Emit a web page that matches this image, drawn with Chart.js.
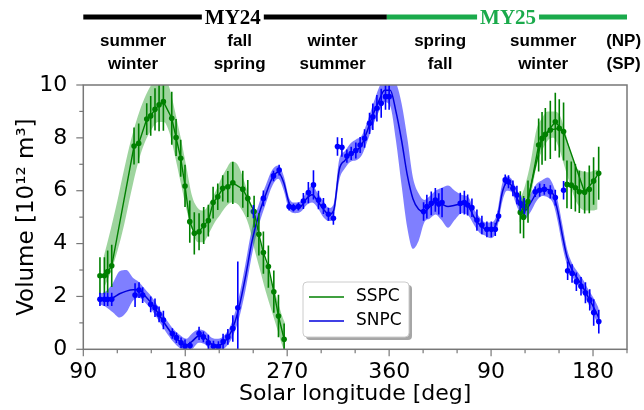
<!DOCTYPE html>
<html lang="en">
<head>
<meta charset="UTF-8" />
<title>SSPC / SNPC volume</title>
<script src="https://cdn.jsdelivr.net/npm/chart.js"></script>
<style>
  body { margin: 0; background: #fff; }
  canvas { display: block; }
</style>
</head>
<body>
<canvas id="chart" width="644" height="410"></canvas>
<script>
// x is cumulative solar longitude: 90..360 is MY24, 450 = Ls 90 of MY25, 540 = Ls 180 of MY25
const xTickVals = [90, 180, 270, 360, 450, 540];
const xTickLabels = ['90', '180', '270', '360', '90', '180'];
const seasonNP = ['summer', 'fall', 'winter', 'spring', 'summer', '(NP)'];
const seasonSP = ['winter', 'spring', 'summer', 'fall', 'winter', '(SP)'];
const seasonLs = [134, 228, 310, 405, 496, 567];

// SSPC, MY24 (points with error bars)
const ssLs24 = [104.7, 108.6, 111.5, 115.1, 134.8, 138.9, 146.0, 149.5, 153.3, 156.9, 160.7, 168.1, 171.9, 176.0, 179.8,
  184.0, 188.0, 192.2, 196.3, 200.4, 204.6, 208.7, 213.1, 217.6, 222.0, 230.8, 235.2, 240.8, 245.0, 249.0, 253.4, 258.2, 262.3, 267.3];
const ssVol24 = [2.78, 2.78, 2.94, 3.16, 7.69, 7.79, 8.71, 8.83, 9.08, 9.25, 9.37, 8.74, 8.01, 7.23, 6.18,
  4.83, 4.39, 4.45, 4.68, 4.87, 5.55, 5.77, 6.09, 6.15, 6.30, 6.06, 5.71, 5.21, 4.35, 3.66, 3.13, 2.18, 1.26, 0.38];
const ssErr24 = [0.7, 0.7, 0.8, 0.8, 0.7, 0.75, 0.6, 0.75, 0.8, 1.0, 1.1, 1.0, 0.7, 0.7, 0.8,
  0.8, 0.8, 0.7, 0.7, 0.6, 0.6, 0.5, 0.5, 0.6, 0.8, 0.7, 0.7, 0.6, 0.8, 0.8, 0.8, 0.8, 0.8, 0.6];
// SSPC, MY24 fit band
const ssBandLs24 = [108, 114, 120, 126, 132, 138, 144, 150, 156, 161, 166, 171, 176, 181, 186, 191, 196, 201, 206, 211,
  216, 221, 226, 231, 236, 241, 246, 251, 256, 261, 266, 268];
const ssBandLo24 = [2.3, 2.9, 3.7, 4.7, 5.9, 7.0, 7.8, 8.3, 8.6, 8.6, 8.2, 7.3, 6.3, 5.3, 4.5, 4.05, 4.05, 4.4, 4.8, 5.1,
  5.4, 5.55, 5.5, 5.2, 4.7, 3.8, 3.0, 2.2, 1.5, 0.8, 0.1, -0.1];
const ssBandHi24 = [3.5, 4.5, 5.6, 6.8, 7.9, 8.8, 9.5, 10.0, 10.3, 10.3, 9.9, 9.0, 8.0, 6.9, 5.8, 5.35, 5.25, 5.5, 5.9, 6.4,
  6.8, 7.1, 7.0, 6.5, 5.8, 4.9, 4.1, 3.3, 2.6, 1.9, 1.2, 1.0];

// SSPC, MY25 (two overlapping retrievals)
const ssLs25a = [475.8, 482.6, 492.0, 497.9, 506.7, 514.0, 532.6, 540.5, 545.0];
const ssVol25a = [5.18, 5.59, 7.73, 8.13, 8.61, 8.24, 5.94, 6.37, 6.66];
const ssErr25a = [0.8, 0.8, 1.0, 1.0, 1.1, 1.1, 0.8, 0.9, 1.0];
const ssLs25b = [478.7, 495.0, 502.3, 510.2, 513.5, 517.0, 520.8, 524.4, 527.9, 536.7];
const ssVol25b = [5.0, 7.98, 8.30, 8.36, null, 6.24, 6.21, 6.11, 5.96, 6.05];
const ssErr25b = [0.8, 1.0, 1.1, 1.1, 0, 0.9, 0.9, 0.9, 0.8, 0.9];
const ssBandLs25 = [475, 480, 485, 490, 495, 500, 505, 510, 515, 520, 525, 530, 535, 540, 544];
const ssBandLo25 = [4.8, 5.1, 5.8, 6.9, 7.5, 7.9, 8.0, 7.6, 6.9, 6.2, 5.6, 5.3, 5.25, 5.25, 5.3];
const ssBandHi25 = [5.6, 6.2, 7.1, 8.3, 8.75, 9.0, 9.0, 8.9, 8.3, 7.5, 6.9, 6.75, 6.7, 6.75, 6.8];

// SNPC (points with error bars)
const snLs = [104.7, 108.6, 111.5, 115.1, 135.7, 139.2, 142.4, 149.5, 153.3, 156.9, 160.7, 168.6, 172.2, 176.3, 179.8,
  184.2, 192.2, 196.0, 200.4, 204.9, 209.3, 213.4, 217.6, 222.0, 226.4, 240.2, 249.0, 257.9, 262.9,
  271.7, 275.5, 279.9, 284.3, 288.7, 293.2, 297.6, 302.0, 306.4, 310.8, 314.4, 318.3, 322.7, 326.5, 330.6,
  334.4, 338.3, 342.7, 345.6, 349.2, 353.0, 356.8, 360.0,
  390.4, 393.3, 397.2, 400.8, 403.8, 406.7, 422.8, 426.4, 429.3, 433.1, 437.5, 441.9, 446.3, 450.2, 453.7,
  456.6, 462.5, 465.4, 469.3, 472.8, 475.8, 479.3, 489.0, 492.9, 497.0, 502.3, 506.7, 514.0,
  517.6, 521.5, 525.3, 529.4, 533.3, 537.1, 540.6, 545.1];
const snVol = [1.89, 1.89, 1.89, 1.89, 2.05, 2.24, 2.05, 1.70, 1.57, 1.32, 1.11, 0.60, 0.44, 0.25, 0.12,
  0.14, 0.60, 0.47, 0.25, 0.12, 0.10, 0.29, 0.47, 0.79, 1.57, 5.21, 5.71, 6.56, 6.78,
  5.40, 5.36, 5.40, 5.61, 5.93, 6.22, 5.65, 5.42, 5.11, 4.96, 7.67, 7.64, 7.31, 7.41, 7.52,
  7.73, 7.98, 8.55, 8.80, 9.12, 9.31, 9.56, 9.56,
  5.21, 5.40, 5.52, 5.65, 5.50, 5.55, 5.52, 5.55, 5.46, 5.36, 4.89, 4.70, 4.54, 4.54, 4.54,
  5.04, 6.41, 6.34, 6.09, 5.84, 5.52, 5.42, 5.96, 6.02, 6.05, 5.96, 5.74, 6.02,
  2.97, 2.87, 2.56, 2.39, 2.14, 1.87, 1.39, 1.05];
const snErr = [0.25, 0.25, 0.25, 0.25, 0.45, 0.3, 0.3, 0.3, 0.35, 0.3, 0.35, 0.2, 0.2, 0.2, 0.25,
  0.15, 0.25, 0.2, 0.3, 0.2, 0.2, 0.3, 0.3, 0.5, 1.75, 0.25, 0.3, 0.2, 0.2,
  0.15, 0.15, 0.15, 0.3, 0.4, 0.55, 0.35, 0.3, 0.25, 0.25, 0.35, 0.35, 0.25, 0.25, 0.3,
  0.3, 0.35, 0.4, 0.5, 0.5, 0.55, 0.5, 0.5,
  0.35, 0.45, 0.45, 0.45, 0.4, 0.55, 0.4, 0.45, 0.4, 0.35, 0.4, 0.35, 0.3, 0.3, 0.25,
  0.2, 0.2, 0.25, 0.3, 0.35, 0.3, 0.3, 0.2, 0.25, 0.2, 0.25, 0.3, 0.35,
  0.35, 0.35, 0.35, 0.35, 0.4, 0.4, 0.5, 0.45];
// SNPC fit line and band
const snFitLs = [104, 110, 116, 122, 128, 134, 139, 145, 151, 157, 163, 169, 175, 181, 186, 192, 197, 203, 209, 215,
  221, 227, 233, 239, 245, 251, 257, 262, 267, 272, 277, 282, 287, 292, 297, 302, 307, 311, 316, 321,
  326, 331, 336, 341, 346, 351, 356, 361, 366, 371, 376, 381, 386, 391, 396, 401, 406, 412, 418, 424,
  430, 435, 440, 445, 450, 455, 460, 464, 468, 472, 476, 480, 485, 490, 495, 500, 505, 509, 513, 517,
  521, 526, 531, 536, 541, 545];
const snFitMid = [1.9, 1.9, 1.95, 2.1, 2.2, 2.25, 2.25, 2.0, 1.7, 1.3, 0.9, 0.55, 0.3, 0.15, 0.3, 0.5, 0.45, 0.2, 0.15, 0.3,
  0.7, 1.5, 2.7, 4.1, 5.1, 5.85, 6.5, 6.7, 6.3, 5.5, 5.35, 5.4, 5.7, 5.85, 5.6, 5.3, 5.1, 5.25, 6.8, 7.15,
  7.4, 7.5, 7.75, 8.3, 8.9, 9.4, 9.8, 9.8, 9.0, 7.9, 6.6, 5.7, 5.3, 5.2, 5.4, 5.55, 5.5, 5.4, 5.45, 5.5,
  5.4, 5.0, 4.7, 4.55, 4.5, 4.8, 5.95, 6.3, 6.2, 5.8, 5.45, 5.25, 5.55, 5.9, 6.05, 6.05, 5.85, 5.2, 4.3, 3.5,
  3.05, 2.7, 2.35, 1.95, 1.55, 1.2];
const snFitLo = [1.7, 1.6, 1.4, 1.2, 1.4, 1.85, 1.95, 1.75, 1.45, 1.05, 0.65, 0.3, 0.05, -0.1, 0.0, 0.25, 0.2, -0.05, -0.1, 0.05,
  0.4, 1.1, 2.2, 3.6, 4.7, 5.5, 6.2, 6.45, 6.0, 5.25, 5.15, 5.2, 5.45, 5.55, 5.35, 5.0, 4.85, 5.0, 6.4, 6.85,
  7.1, 7.15, 7.35, 7.9, 8.5, 9.0, 9.35, 9.2, 7.9, 6.2, 4.6, 3.8, 4.1, 4.8, 4.95, 5.1, 4.9, 4.6, 4.9, 5.15,
  5.05, 4.7, 4.4, 4.3, 4.2, 4.5, 5.6, 6.0, 5.95, 5.5, 5.1, 4.95, 5.2, 5.6, 5.8, 5.75, 5.5, 4.8, 3.9, 3.2,
  2.8, 2.45, 2.1, 1.7, 1.25, 0.9];
const snFitHi = [2.1, 2.2, 2.5, 2.95, 3.0, 2.7, 2.55, 2.25, 1.95, 1.55, 1.15, 0.8, 0.55, 0.4, 0.6, 0.75, 0.7, 0.45, 0.4, 0.55,
  1.0, 1.9, 3.2, 4.6, 5.5, 6.2, 6.8, 6.95, 6.55, 5.7, 5.55, 5.6, 5.95, 6.2, 5.9, 5.6, 5.35, 5.5, 7.2, 7.5,
  7.8, 7.95, 8.1, 8.65, 9.3, 9.9, 10.3, 10.4, 10.1, 9.3, 8.0, 6.5, 5.9, 5.65, 5.8, 6.0, 6.1, 6.2, 6.0, 5.85,
  5.75, 5.3, 5.0, 4.8, 4.8, 5.1, 6.3, 6.55, 6.45, 6.1, 5.8, 5.6, 5.9, 6.25, 6.4, 6.5, 6.2, 5.6, 4.7, 3.8,
  3.3, 2.95, 2.65, 2.25, 1.9, 1.55];

const GREEN = '#008000';
const BLUE = '#0000ff';
const pts = (xs, ys) => xs.map((v, i) => ({ x: v, y: ys[i] }));

function band(xs, lo, hi, color) {
  return [
    { data: pts(xs, lo), borderWidth: 0, pointRadius: 0, fill: false, cubicInterpolationMode: 'monotone', order: 10 },
    { data: pts(xs, hi), borderWidth: 0, pointRadius: 0, fill: '-1', backgroundColor: color, cubicInterpolationMode: 'monotone', order: 10 }
  ];
}

function series(xs, ys, errs, color, showLine) {
  return {
    data: pts(xs, ys), errs: errs, showLine: showLine, spanGaps: false,
    borderColor: color, borderWidth: 1.4, tension: 0,
    pointRadius: 2.8, pointBackgroundColor: color, pointBorderWidth: 0, order: 1
  };
}

const datasets = [
  ...band(ssBandLs24, ssBandLo24, ssBandHi24, 'rgba(40,160,40,0.45)'),
  ...band(ssBandLs25, ssBandLo25, ssBandHi25, 'rgba(40,160,40,0.45)'),
  ...band(snFitLs, snFitLo, snFitHi, 'rgba(0,0,255,0.5)'),
  { data: pts(snFitLs, snFitMid), borderColor: '#0000dd', borderWidth: 1.5, pointRadius: 0,
    cubicInterpolationMode: 'monotone', fill: false, order: 5 },
  series(ssLs24, ssVol24, ssErr24, GREEN, true),
  series(ssLs25a, ssVol25a, ssErr25a, GREEN, true),
  series(ssLs25b, ssVol25b, ssErr25b, GREEN, true),
  series(snLs, snVol, snErr, BLUE, false)
];

const deco = {
  id: 'deco',
  afterDatasetsDraw(chart) {
    const { ctx, chartArea: a, scales: { x, y } } = chart;
    ctx.save();
    ctx.beginPath();
    ctx.rect(a.left, a.top, a.right - a.left, a.bottom - a.top);
    ctx.clip();
    ctx.lineWidth = 1.6;
    chart.data.datasets.forEach(ds => {
      if (!ds.errs) return;
      ctx.strokeStyle = ds.borderColor;
      ds.data.forEach((p, j) => {
        if (p.y == null) return;
        const px = x.getPixelForValue(p.x);
        ctx.beginPath();
        ctx.moveTo(px, y.getPixelForValue(p.y - ds.errs[j]));
        ctx.lineTo(px, y.getPixelForValue(p.y + ds.errs[j]));
        ctx.stroke();
      });
    });
    ctx.restore();
  },
  afterDraw(chart) {
    const { ctx, chartArea: a, scales: { x, y } } = chart;
    ctx.save();
    // frame
    ctx.strokeStyle = '#777';
    ctx.lineWidth = 1.5;
    ctx.strokeRect(a.left, a.top, a.right - a.left, a.bottom - a.top);
    // ticks, major and minor
    ctx.lineWidth = 1.2;
    for (let v = 90; v <= 570; v += 30) {
      const px = x.getPixelForValue(v);
      const len = xTickVals.includes(v) ? 7 : 4;
      ctx.beginPath(); ctx.moveTo(px, a.bottom); ctx.lineTo(px, a.bottom + len); ctx.stroke();
    }
    for (let v = 0; v <= 10; v++) {
      const py = y.getPixelForValue(v);
      const len = v % 2 === 0 ? 7 : 4;
      ctx.beginPath(); ctx.moveTo(a.left, py); ctx.lineTo(a.left - len, py); ctx.stroke();
    }

    // legend
    const lx = 303, ly = 282, lw = 106, lh = 55;
    ctx.fillStyle = 'rgba(0,0,0,0.35)';
    ctx.beginPath(); ctx.roundRect(lx + 3, ly + 3, lw, lh, 4); ctx.fill();
    ctx.fillStyle = '#fff';
    ctx.strokeStyle = '#ccc';
    ctx.lineWidth = 1;
    ctx.beginPath(); ctx.roundRect(lx, ly, lw, lh, 4); ctx.fill(); ctx.stroke();
    ctx.font = '17px "DejaVu Sans"';
    ctx.textBaseline = 'middle';
    ctx.textAlign = 'left';
    [['SSPC', GREEN, ly + 15], ['SNPC', '#0000dd', ly + 39]].forEach(([t, c, yy]) => {
      ctx.strokeStyle = c; ctx.lineWidth = 1.5;
      ctx.beginPath(); ctx.moveTo(lx + 6, yy); ctx.lineTo(lx + 41, yy); ctx.stroke();
      ctx.fillStyle = '#000';
      ctx.fillText(t, lx + 53, yy);
    });

    // Mars year bars
    const x0 = x.getPixelForValue(90), xm = x.getPixelForValue(358), x1 = a.right;
    ctx.lineWidth = 5;
    ctx.strokeStyle = '#000';
    ctx.beginPath(); ctx.moveTo(x0, 17); ctx.lineTo(xm, 17); ctx.stroke();
    ctx.strokeStyle = '#1aaa4b';
    ctx.beginPath(); ctx.moveTo(xm, 17); ctx.lineTo(x1, 17); ctx.stroke();
    ctx.font = 'bold 21px "Liberation Serif"';
    ctx.textAlign = 'center';
    ctx.textBaseline = 'alphabetic';
    [['MY24', 222, '#000'], ['MY25', 465, '#1aaa4b']].forEach(([t, v, c]) => {
      const cx = x.getPixelForValue(v);
      const w = ctx.measureText(t).width;
      ctx.fillStyle = '#fff';
      ctx.fillRect(cx - w / 2 - 3, 8, w + 6, 18);
      ctx.fillStyle = c;
      ctx.fillText(t, cx, 24);
    });

    // season rows
    ctx.fillStyle = '#000';
    ctx.font = 'bold 17px "Liberation Sans"';
    ctx.textBaseline = 'middle';
    seasonLs.forEach((v, i) => {
      const cx = x.getPixelForValue(v);
      ctx.fillText(seasonNP[i], cx, 41);
      ctx.fillText(seasonSP[i], cx, 64);
    });
    ctx.restore();
  }
};

Chart.defaults.font.family = '"DejaVu Sans"';
Chart.defaults.color = '#000';

new Chart(document.getElementById('chart'), {
  type: 'line',
  data: { datasets },
  options: {
    responsive: false,
    animation: false,
    devicePixelRatio: 1,
    layout: { padding: { top: 85, right: 17, left: 0, bottom: 0 } },
    plugins: { legend: { display: false }, tooltip: { enabled: false } },
    scales: {
      x: {
        type: 'linear', min: 90, max: 570,
        grid: { display: false }, border: { display: false },
        ticks: {
          stepSize: 30, autoSkip: false, maxRotation: 0, padding: 2,
          font: { size: 22 },
          callback: v => { const i = xTickVals.indexOf(v); return i < 0 ? '' : xTickLabels[i]; }
        },
        title: { display: true, text: 'Solar longitude [deg]', font: { size: 22 }, padding: { top: 0, bottom: 3 } },
        afterFit: s => { s.height = 60.7; }
      },
      y: {
        min: 0, max: 10,
        grid: { display: false }, border: { display: false },
        ticks: { stepSize: 1, padding: 8, font: { size: 22 }, callback: v => (v % 2 === 0 ? String(v) : '') },
        title: { display: true, text: 'Volume [10¹² m³]', font: { size: 23 }, padding: { top: 13, bottom: 0 } },
        afterFit: s => { s.width = 83.3; }
      }
    }
  },
  plugins: [deco]
});
</script>
</body>
</html>
